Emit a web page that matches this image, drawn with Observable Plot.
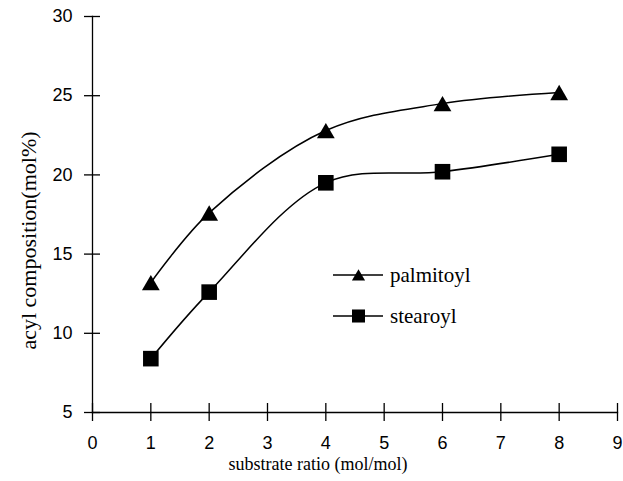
<!DOCTYPE html>
<html><head><meta charset="utf-8">
<script src="https://cdn.jsdelivr.net/npm/d3@7"></script>
<script src="https://cdn.jsdelivr.net/npm/@observablehq/plot@0.6"></script>
<style>body{margin:0;background:#fff}</style>
</head><body><div id="chart"></div>
<script>
const ratios = [1, 2, 4, 6, 8];
const palmitoyl = [13.2, 17.6, 22.8, 24.5, 25.2];
const stearoyl = [8.4, 12.6, 19.5, 20.2, 21.3];
const xTicks = [0, 1, 2, 3, 4, 5, 6, 7, 8, 9];
const yTicks = [5, 10, 15, 20, 25, 30];
const seriesNames = ["palmitoyl", "stearoyl"];
const xTitle = "substrate ratio (mol/mol)";
const yTitle = "acyl composition(mol%)";

const pData = ratios.map((x, i) => ({x, y: palmitoyl[i]}));
const sData = ratios.map((x, i) => ({x, y: stearoyl[i]}));
const sans = "Liberation Sans, Arial, sans-serif";
const serif = "Liberation Serif, Times New Roman, serif";

const plot = Plot.plot({
  width: 623, height: 481,
  marginLeft: 92, marginRight: 6, marginTop: 16, marginBottom: 69,
  style: {background: "#fff", color: "#000", overflow: "visible"},
  x: {domain: [0, 9], label: null},
  y: {domain: [5, 30], label: null},
  marks: [
    Plot.frame({anchor: "left", stroke: "#000", strokeWidth: 1.3}),
    Plot.frame({anchor: "bottom", stroke: "#000", strokeWidth: 1.3}),
    Plot.axisY(yTicks, {tickSize: 16, dx: 8, fill: "none", strokeWidth: 1.3, label: null}),
    Plot.axisY(yTicks, {tickSize: 0, tickPadding: 20, fontSize: 18, fontFamily: sans, label: null}),
    Plot.axisX(xTicks, {tickSize: 18, dy: -9, fill: "none", strokeWidth: 1.3, label: null}),
    Plot.axisX(xTicks, {tickSize: 0, tickPadding: 24, fontSize: 18, fontFamily: sans, label: null}),
    Plot.line(pData, {x: "x", y: "y", curve: "catmull-rom", stroke: "#000", strokeWidth: 1.5}),
    Plot.line(sData, {x: "x", y: "y", curve: "catmull-rom", stroke: "#000", strokeWidth: 1.5}),
    Plot.dot(pData, {x: "x", y: "y", symbol: "triangle", r: 6.6, dy: 2.6, fill: "#000", stroke: "none"}),
    Plot.dot(sData, {x: "x", y: "y", symbol: "square", r: 8.8, fill: "#000", stroke: "none"}),
    Plot.text([xTitle], {frameAnchor: "bottom", dy: 57, dx: -37, textAnchor: "middle", fontSize: 18, fontFamily: serif, fill: "#000"}),
    Plot.text([yTitle], {frameAnchor: "left", rotate: -90, dx: -64, dy: 26, textAnchor: "middle", fontSize: 22, fontFamily: serif, fill: "#000"})
  ]
});
document.getElementById("chart").appendChild(plot);

// legend
const svg = d3.select(plot);
const leg = svg.append("g");
const rows = [{name: seriesNames[0], y: 275, sym: d3.symbolTriangle, size: 75, off: 1.8},
              {name: seriesNames[1], y: 316, sym: d3.symbolSquare, size: 170, off: 0}];
rows.forEach(r => {
  leg.append("line").attr("x1", 333).attr("x2", 383).attr("y1", r.y).attr("y2", r.y)
    .attr("stroke", "#000").attr("stroke-width", 1.5);
  leg.append("path").attr("d", d3.symbol(r.sym, r.size)())
    .attr("transform", `translate(358.5,${r.y + r.off})`).attr("fill", "#000");
  leg.append("text").attr("x", 390).attr("y", r.y).attr("dy", "0.32em")
    .style("font-family", serif).style("font-size", "21px").style("text-anchor", "start")
    .attr("fill", "#000").text(r.name);
});
</script>
</body></html>
